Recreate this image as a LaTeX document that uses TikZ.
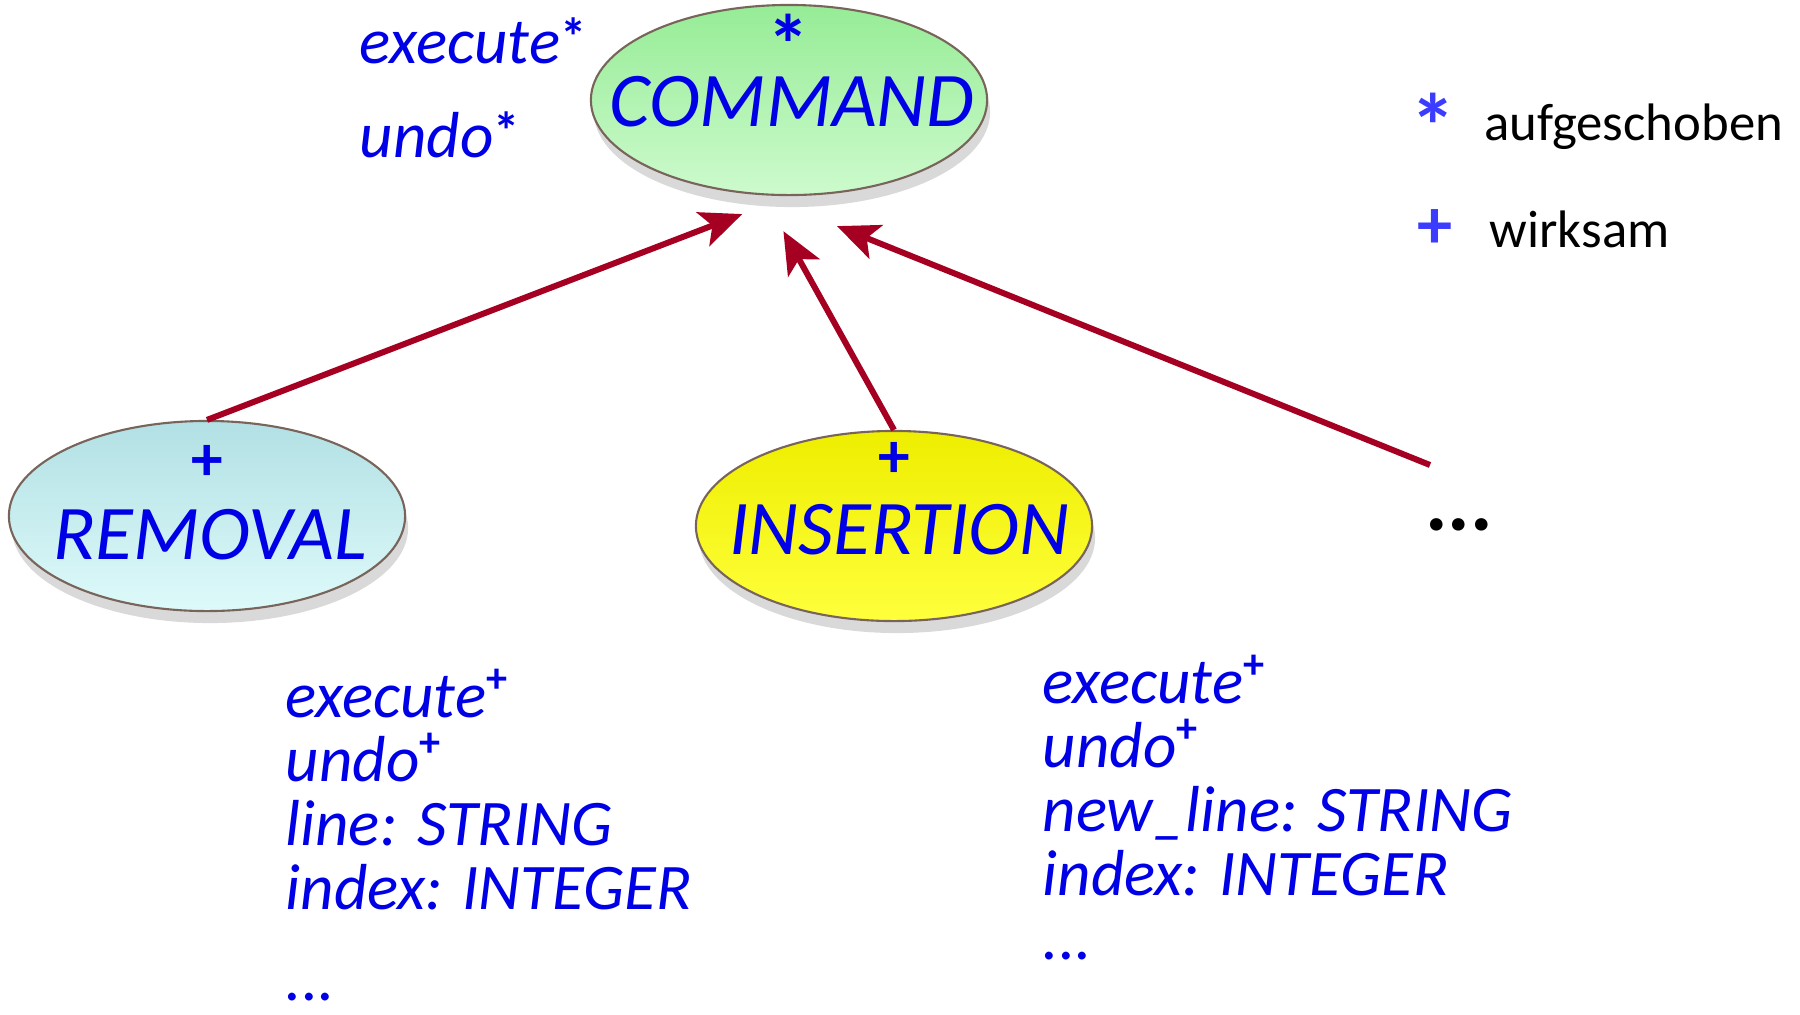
\documentclass[tikz,border=0pt]{standalone}
\usepackage{fontspec}
\setmainfont{Carlito}
\usetikzlibrary{arrows.meta,positioning,calc,shapes.geometric,shadows}
\definecolor{featblue}{RGB}{0,0,230}
\definecolor{legendblue}{RGB}{60,60,255}
\definecolor{inheritred}{RGB}{165,0,33}
\definecolor{rimbrown}{RGB}{120,100,90}
\newcommand{\deferred}{\raisebox{0.25ex}{\upshape\bfseries\fontsize{15}{15}\selectfont *}}
\newcommand{\effective}{\raisebox{0.8ex}{\upshape\bfseries\fontsize{12}{12}\selectfont +}}

\begin{document}
\begin{tikzpicture}[x=0.01cm, y=-0.01cm,
    classbox/.style={ellipse, draw=rimbrown, line width=0.6pt,
        minimum width=3.96cm, minimum height=1.9cm, inner sep=0pt,
        drop shadow={shadow xshift=0.03cm, shadow yshift=-0.12cm, opacity=0.3}},
    classname/.style={font=\fontsize{22}{26}\selectfont\itshape, text=featblue, inner sep=0pt},
    status/.style={font=\fontsize{24}{28}\selectfont\bfseries, text=featblue, inner sep=0pt},
    feature/.style={font=\fontsize{18.5}{22}\selectfont\itshape, text=featblue,
        inner sep=0pt, text height=0.42cm, text depth=0.1cm, anchor=base west},
    legendsym/.style={font=\fontsize{26}{30}\selectfont\bfseries, text=legendblue, inner sep=0pt},
    legendtext/.style={font=\fontsize{15}{19}\selectfont, inner sep=0pt, anchor=base west},
    inherit/.style={-{Stealth[length=0.42cm, width=0.36cm, inset=0.1cm]},
        line width=0.06cm, draw=inheritred}]
    \useasboundingbox (0,0) rectangle (1800,1014);

    % deferred class
    \node[classbox, top color={rgb,255:red,150;green,236;blue,150},
        bottom color={rgb,255:red,205;green,250;blue,205}] (command) at (789,100) {};
    \node[classname] (commandname) at (792,102) {COMMAND};
    \node[status, below=0.1cm of command.north] (cmdstar) {*};
    \node[feature] (cmdexec) at (359,63) {execute\deferred};
    \node[feature] (cmdundo) at (359,157) {undo\deferred};

    % effective classes
    \node[classbox, top color={rgb,255:red,178;green,224;blue,228},
        bottom color={rgb,255:red,222;green,250;blue,250}] (removal) at (207,516) {};
    \node[classname] (removalname) at (210,535) {REMOVAL};
    \node[status, font=\fontsize{18}{22}\selectfont\bfseries, below=0.25cm of removal.north] (remplus) {+};
    \node[classbox, top color={rgb,255:red,238;green,238;blue,0},
        bottom color={rgb,255:red,255;green,255;blue,60}] (insertion) at (894,526) {};
    \node[classname] (insertionname) at (899,530) {INSERTION};
    \node[status, font=\fontsize{18}{22}\selectfont\bfseries, below=0.12cm of insertion.north] (insplus) {+};
    \node[font=\fontsize{24}{28}\selectfont\bfseries, anchor=base] (moreclasses) at (1459,530) {...};
    \coordinate (others) at (1430,465);

    % inheritance
    \draw[inherit, shorten >=0.5cm] (removal.north) -- (command.south);
    \draw[inherit, shorten >=0.41cm] (insertion.north) -- (command.255);
    \draw[inherit, shorten >=0.83cm] (others) -- (command.253);

    % features
    \foreach \txt [count=\i from 0] in {execute\effective, undo\effective,
        line: STRING, index: INTEGER}
        \node[feature] (remfeat\i) at (285,{717+64*\i}) {\txt};
    \node[feature] (remmore) at (285,1000) {...};
    \foreach \txt [count=\i from 0] in {execute\effective, undo\effective,
        new\_line: STRING, index: INTEGER}
        \node[feature] (insfeat\i) at (1042,{703+64*\i}) {\txt};
    \node[feature] (insmore) at (1042,959) {...};

    % legend
    \node[legendsym] (defstar) at (1433,126) {*};
    \node[legendtext] (deftext) at (1484,140) {aufgeschoben};
    \node[legendsym, font=\fontsize{20}{24}\selectfont\bfseries] (effplus) at (1435,229) {+};
    \node[legendtext] (efftext) at (1489,247) {wirksam};
\end{tikzpicture}
\end{document}
